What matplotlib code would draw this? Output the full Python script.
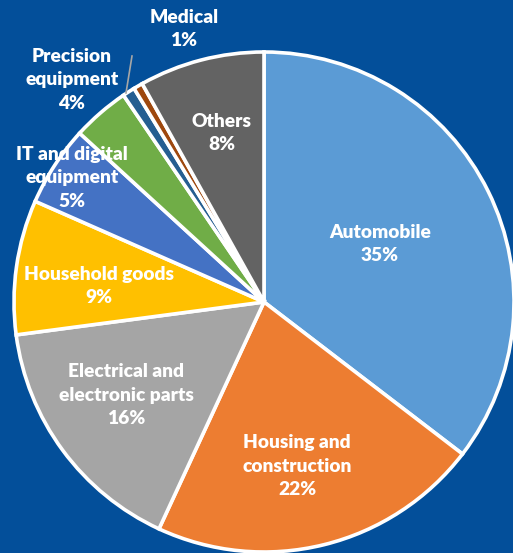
import matplotlib.pyplot as plt

# Share of shipments by end-use industry (%)
industries = ['Automobile', 'Housing and\nconstruction', 'Electrical and\nelectronic parts',
              'Household goods', 'IT and digital\nequipment', 'Precision\nequipment',
              '', 'Medical', 'Others']
shares = [35.4, 21.5, 16.0, 8.7, 5.2, 3.7, 0.8, 0.6, 8.1]
colors = ['#5b9bd5', '#ed7d31', '#a5a5a5', '#ffc000', '#4472c4', '#70ad47',
          '#255e91', '#9e480e', '#636363']

# label anchor points (pixels, origin bottom-left)
label_pos = [(380, 309), (297, 87), (126, 158), (99, 267), (72, 375),
             (72, 473), None, (184, 524), (222, 420)]

W, H = 513, 553
bg = '#034f9a'

fig = plt.figure(figsize=(W / 100, H / 100), dpi=100, facecolor=bg)
ax = fig.add_axes([0, 0, 1, 1])
ax.set_facecolor(bg)

ax.pie(shares, colors=colors, startangle=90, counterclock=False,
       center=(264, 251), radius=250,
       wedgeprops=dict(edgecolor='white', linewidth=2.6))

for name, val, pos in zip(industries, shares, label_pos):
    if pos is None:
        continue
    ax.text(pos[0], pos[1], f'{name}\n{val:.0f}%', ha='center', va='center',
            color='white', fontsize=13.8, fontweight='heavy', family='Lato',
            linespacing=1.45)

# leader line for the precision equipment label
ax.plot([132, 126], [497, 460], color='#a6a6a6', lw=1.2)

ax.set_xlim(0, W)
ax.set_ylim(0, H)
ax.set_aspect('equal')
ax.axis('off')

fig.savefig('out.png', dpi=100, facecolor=bg)
